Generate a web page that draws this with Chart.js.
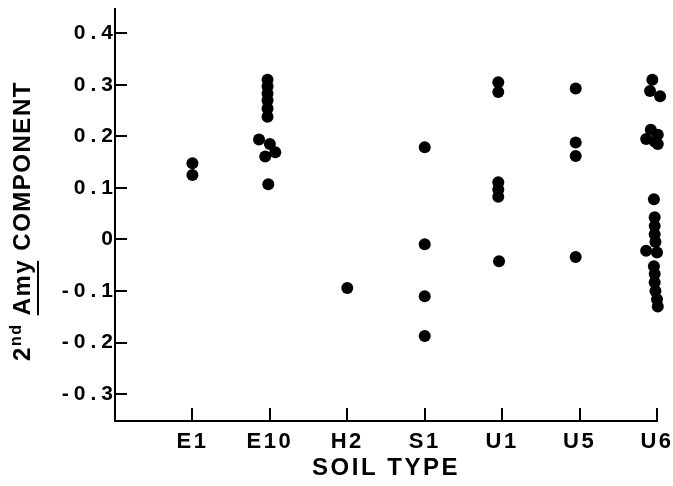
<!DOCTYPE html>
<html><head><meta charset="utf-8">
<script src="https://cdn.jsdelivr.net/npm/chart.js@4"></script>
<style>html,body{margin:0;padding:0;background:#fff}#wrap{width:673px;height:486px}</style>
</head><body><div id="wrap"><canvas id="c" width="673" height="486"></canvas></div>
<script>
// ---- data ----
const soilTypes = ['E1', 'E10', 'H2', 'S1', 'U1', 'U5', 'U6'];
const yTickValues = [-0.3, -0.2, -0.1, 0, 0.1, 0.2, 0.3, 0.4];
const yTickLabels = ['-0.3', '-0.2', '-0.1', '0', '0.1', '0.2', '0.3', '0.4'];

const e1Values  = [0.148, 0.125];
const e1Offsets = [0, 0];
const e10Values  = [0.310, 0.297, 0.283, 0.270, 0.254, 0.238, 0.194, 0.185, 0.169, 0.161, 0.107];
const e10Offsets = [-0.03, -0.03, -0.03, -0.03, -0.03, -0.03, -0.14, 0.0, 0.07, -0.06, -0.02];
const h2Values  = [-0.094];
const h2Offsets = [0];
const s1Values  = [0.179, -0.009, -0.110, -0.187];
const s1Offsets = [0, 0, 0, 0];
const u1Values  = [0.305, 0.286, 0.111, 0.097, 0.083, -0.042];
const u1Offsets = [-0.05, -0.05, -0.05, -0.05, -0.05, -0.04];
const u5Values  = [0.293, 0.188, 0.162, -0.034];
const u5Offsets = [-0.05, -0.05, -0.05, -0.05];
const u6Values  = [0.310, 0.288, 0.278, 0.213, 0.203, 0.195, 0.190, 0.185,
                   0.078, 0.043, 0.026, 0.010, -0.005, -0.022, -0.025, -0.052, -0.067, -0.083, -0.100, -0.116, -0.130];
const u6Offsets = [-0.06, -0.09, 0.04, -0.08, 0.01, -0.14, -0.03, 0.01,
                   -0.04, -0.03, -0.03, -0.03, -0.02, -0.14, 0.0, -0.04, -0.03, -0.03, -0.02, 0.0, 0.01];

const groups = [
  [e1Values, e1Offsets], [e10Values, e10Offsets], [h2Values, h2Offsets], [s1Values, s1Offsets],
  [u1Values, u1Offsets], [u5Values, u5Offsets], [u6Values, u6Offsets]
];
const points = [];
groups.forEach(([vals, offs], i) => {
  vals.forEach((v, j) => points.push({ x: i + 1 + offs[j], y: v }));
});

const FONT = '"Liberation Sans", Arial, Helvetica, sans-serif';

function spaced(scale, spacing) {
  if (scale._spacedPatched) return;
  scale._spacedPatched = true;
  ['drawLabels', 'drawTitle'].forEach(name => {
    const orig = scale[name];
    scale[name] = function (area) {
      const ctx = this.ctx;
      ctx.save();
      if ('letterSpacing' in ctx) ctx.letterSpacing = spacing;
      orig.call(this, area);
      ctx.restore();
    };
  });
}

// inward tick marks placed through the scales
const inwardTicks = {
  id: 'inwardTicks',
  afterDraw(chart) {
    const ctx = chart.ctx;
    const xs = chart.scales.x, ys = chart.scales.y;
    const area = chart.chartArea;
    ctx.save();
    ctx.strokeStyle = '#000';
    ctx.lineWidth = 2;
    ctx.beginPath();
    xs.ticks.forEach(t => {
      const px = Math.round(xs.getPixelForValue(t.value));
      ctx.moveTo(px, area.bottom);
      ctx.lineTo(px, area.bottom - 13);
    });
    ys.ticks.forEach(t => {
      const py = Math.round(ys.getPixelForValue(t.value));
      ctx.moveTo(area.left, py);
      ctx.lineTo(area.left + 12, py);
    });
    ctx.stroke();
    ctx.restore();
  }
};

const yTitlePlugin = {
  id: 'yTitle',
  afterDraw(chart) {
    const ctx = chart.ctx;
    const big = 'bold 24px ' + FONT, small = 'bold 16px ' + FONT;
    const parts = [
      { t: '2', f: big, dy: 0 },
      { t: 'nd', f: small, dy: -9 },
      { t: ' ', f: big, dy: 0 },
      { t: 'Amy', f: big, dy: 0, u: true },
      { t: ' COMPONENT', f: big, dy: 0 }
    ];
    ctx.save();
    if ('letterSpacing' in ctx) ctx.letterSpacing = '1.5px';
    ctx.fillStyle = '#000';
    let total = 0;
    parts.forEach(p => { ctx.font = p.f; p.w = ctx.measureText(p.t).width; total += p.w; });
    ctx.translate(30, 221);
    ctx.rotate(-Math.PI / 2);
    ctx.textBaseline = 'alphabetic';
    ctx.textAlign = 'left';
    let x = -total / 2;
    parts.forEach(p => {
      ctx.font = p.f;
      ctx.fillText(p.t, x, p.dy);
      if (p.u) ctx.fillRect(x, 7, p.w - 2, 2);
      x += p.w;
    });
    ctx.restore();
  }
};

new Chart(document.getElementById('c'), {
  type: 'scatter',
  data: {
    datasets: [{
      data: points,
      backgroundColor: '#000',
      borderColor: '#000',
      borderWidth: 0,
      pointRadius: 6,
      pointHoverRadius: 6,
      clip: false
    }]
  },
  options: {
    responsive: false,
    animation: false,
    events: [],
    layout: { padding: { left: 0, right: 16, top: 9, bottom: 0 } },
    plugins: { legend: { display: false }, tooltip: { enabled: false } },
    scales: {
      x: {
        type: 'linear',
        position: 'bottom',
        min: 0,
        max: 7,
        afterBuildTicks: s => { s.ticks = soilTypes.map((_, i) => ({ value: i + 1 })); },
        ticks: {
          autoSkip: false,
          maxRotation: 0,
          minRotation: 0,
          padding: 8,
          color: '#000',
          font: { family: FONT, size: 22, weight: 'bold' },
          callback: (v) => soilTypes[Math.round(v) - 1] || ''
        },
        grid: { display: false, drawOnChartArea: false, drawTicks: false },
        border: { display: true, color: '#000', width: 2 },
        title: { display: true, text: 'SOIL TYPE', color: '#000', font: { family: FONT, size: 24, weight: 'bold' }, padding: { top: 0, bottom: 3 } },
        afterFit: s => { s.height = 65; s.paddingLeft = 0; s.paddingRight = 0; spaced(s, '2.5px'); }
      },
      y: {
        type: 'linear',
        min: -0.352,
        max: 0.447,
        afterBuildTicks: s => { s.ticks = yTickValues.map(v => ({ value: v })); },
        ticks: {
          padding: -3,
          color: '#000',
          font: { family: FONT, size: 21, weight: 'bold' },
          callback: (v, i) => yTickLabels[i]
        },
        grid: { display: false, drawOnChartArea: false, drawTicks: false },
        border: { display: true, color: '#000', width: 2 },
        title: { display: false },
        afterFit: s => { s.width = 115; s.paddingTop = 0; s.paddingBottom = 0; spaced(s, '5px'); }
      }
    }
  },
  plugins: [inwardTicks, yTitlePlugin]
});
</script>
</body></html>
